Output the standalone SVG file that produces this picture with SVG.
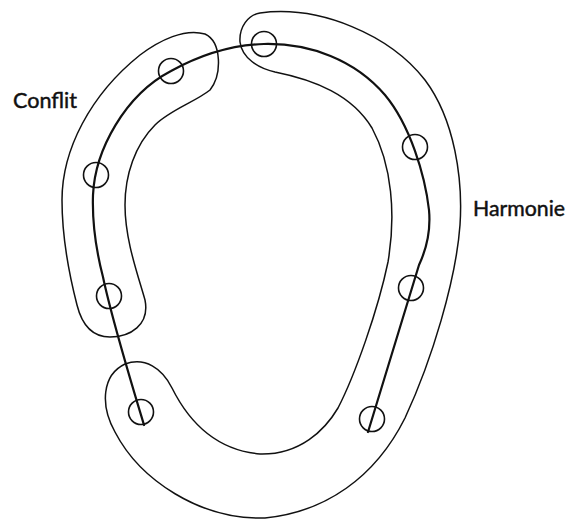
<svg xmlns="http://www.w3.org/2000/svg" width="576" height="521" viewBox="0 0 576 521">
<style>
.band{fill:none;stroke:#111;stroke-width:1.5}
.main{fill:none;stroke:#111;stroke-width:2.2;stroke-linecap:round;stroke-linejoin:round}
.pt{fill:none;stroke:#111;stroke-width:1.6}
.lbl{font-family:Lato,"Open Sans","Liberation Sans",sans-serif;font-size:21px;fill:#111;stroke:#111;stroke-width:0.45}
</style>
<rect width="576" height="521" fill="#fff"/>
<g id="conflit">
<path class="band" d="M 110 337 C 92 337, 82 325, 77 305 C 68 270, 62 235, 62 200 C 62 150, 90 95, 140 55 C 160 40, 185 28, 205 34 C 222 42, 222 75, 210 90 C 195 102, 170 110, 155 125 C 135 145, 125 175, 125 205 C 125 240, 138 275, 145 300 C 150 325, 130 337, 110 337 Z"/>
<text class="lbl" x="13" y="108" textLength="64" lengthAdjust="spacingAndGlyphs">Conflit</text>
</g>
<g id="harmonie">
<path class="band" d="M 260 13 C 320 5, 390 35, 425 80 C 455 120, 463 180, 460 225 C 456 280, 432 360, 405 418 C 375 478, 325 512, 265 518 C 200 520, 140 480, 115 432 C 100 405, 102 375, 125 364 C 145 357, 162 368, 172 388 C 188 420, 215 450, 260 454 C 300 455, 325 430, 338 408 C 355 375, 378 310, 388 262 C 396 215, 392 165, 372 128 C 352 95, 315 80, 275 72 C 258 68, 242 58, 240 42 C 239 27, 248 15, 260 13 Z"/>
<text class="lbl" x="473" y="216" textLength="92" lengthAdjust="spacingAndGlyphs">Harmonie</text>
</g>
<g id="connectors">
<path class="main" d="M 144 425 C 135 395, 112 320, 103 277 C 96 250, 92 225, 93 195 C 95 150, 125 95, 171 71 C 200 55, 230 45, 264 44 C 310 43, 355 60, 385 95 C 410 125, 425 175, 429 210 C 431 232, 426 250, 419 265 L 368 432"/>
</g>
<g id="points">
<circle class="pt" cx="171" cy="71" r="12.5"/>
<circle class="pt" cx="264" cy="44" r="12.5"/>
<circle class="pt" cx="96" cy="175" r="12.5"/>
<circle class="pt" cx="415" cy="147" r="12.5"/>
<circle class="pt" cx="109" cy="296" r="12.5"/>
<circle class="pt" cx="411" cy="288" r="12.5"/>
<circle class="pt" cx="141" cy="412" r="12.5"/>
<circle class="pt" cx="372" cy="419" r="12.5"/>
</g>
</svg>
